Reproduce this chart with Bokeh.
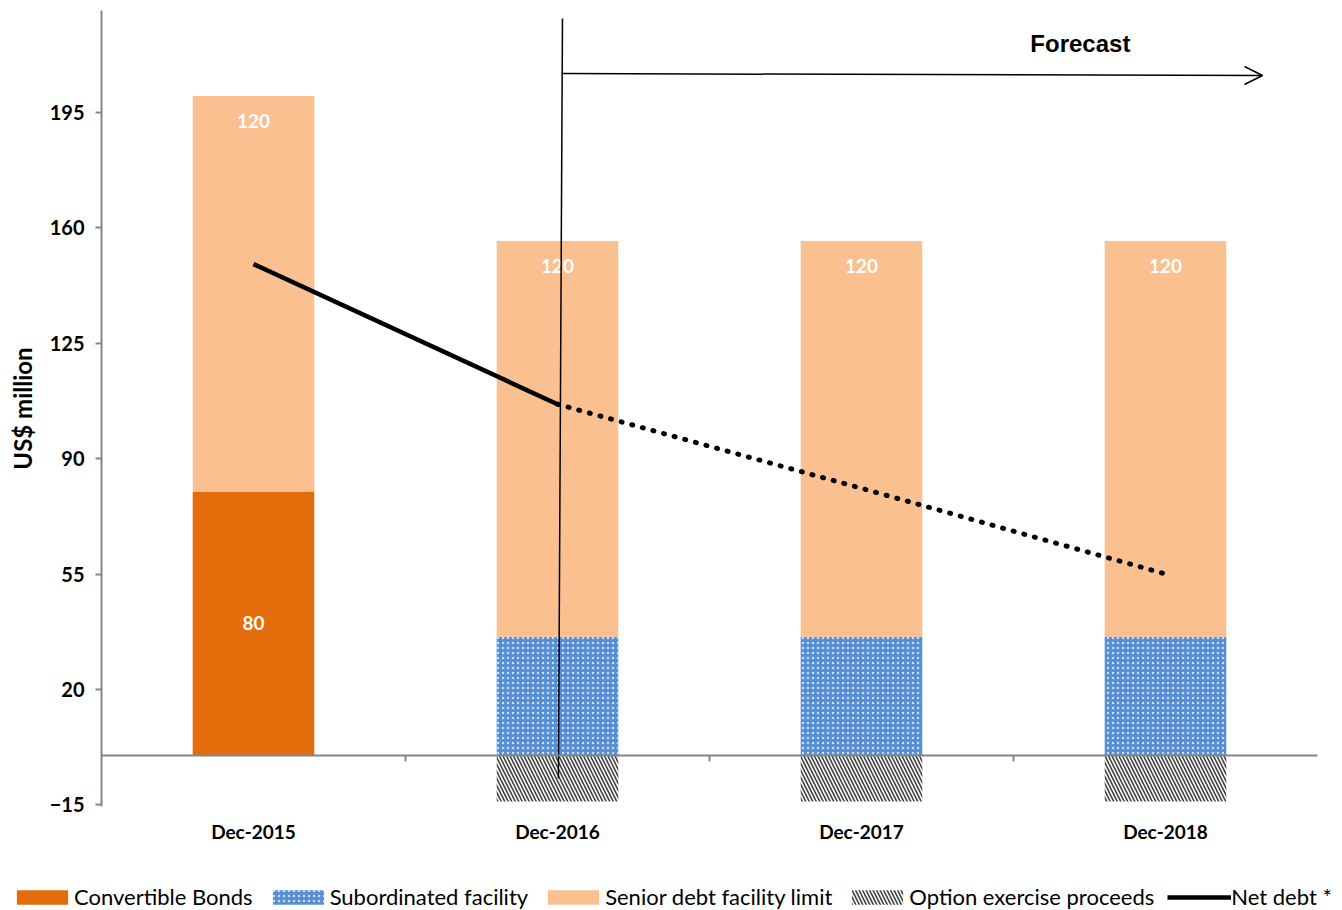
from bokeh.plotting import figure
from bokeh.models import (Range1d, FixedTicker, Legend, LegendItem, Arrow, LinearAxis,
                          OpenHead, ColumnDataSource)
from bokeh.core.properties import value
from bokeh.embed import file_html
from bokeh.resources import INLINE

# ---- data ----
categories = ["Dec-2015", "Dec-2016", "Dec-2017", "Dec-2018"]
convertible_bonds = [80, 0, 0, 0]
subordinated_facility = [0, 36, 36, 36]
senior_debt_limit = [120, 120, 120, 120]
option_proceeds = [0, -14, -14, -14]
net_debt = [149, 106.5, 81, 55]
y_ticks = [-15, 20, 55, 90, 125, 160, 195]
forecast_from = 1  # index of first forecast category (Dec-2016)
series_names = ["Convertible Bonds", "Subordinated facility", "Senior debt facility limit",
                "Option exercise proceeds", "Net debt *"]

# ---- derived ----
xs = list(range(len(categories)))
sub_bottom = convertible_bonds
sub_top = [c + s for c, s in zip(convertible_bonds, subordinated_facility)]
sen_top = [b + s for b, s in zip(sub_top, senior_debt_limit)]

ORANGE = "#E46C0A"
PEACH = "#FAC090"
BLUE = "#558ED5"
GRAY = "#868686"

# plot area bounds (data units) and the whole-canvas view around them
X_LO, X_HI = -0.5, len(categories) - 0.5
Y_LO, Y_HI = -15.5, 226

p = figure(width=1342, height=910, output_backend="svg", toolbar_location=None,
           x_range=Range1d(-0.8322, 3.5822), y_range=Range1d(-47.06, 228.96),
           min_border=0)
p.outline_line_color = None
p.grid.visible = False
p.background_fill_color = "white"

src = ColumnDataSource(dict(x=xs, conv=convertible_bonds, sb=sub_bottom, st=sub_top,
                            sen=sen_top, opt=option_proceeds, zero=[0] * len(xs)))

r_conv = p.vbar(x="x", width=0.4, bottom="zero", top="conv", source=src,
                fill_color=ORANGE, line_color=None)
r_sub = p.vbar(x="x", width=0.4, bottom="sb", top="st", source=src,
               fill_color=BLUE, line_color=None, hatch_pattern="dot", hatch_color="white",
               hatch_scale=5, hatch_weight=1.5, hatch_alpha=0.7)
r_sen = p.vbar(x="x", width=0.4, bottom="st", top="sen", source=src,
               fill_color=PEACH, line_color=None)
r_opt = p.vbar(x="x", width=0.4, bottom="opt", top="zero", source=src,
               fill_color="white", line_color=None, hatch_pattern="left_diagonal_line",
               hatch_color="#404040", hatch_scale=7, hatch_weight=1.6)

# data labels
lab_src = ColumnDataSource(dict(x=xs, y=sen_top, t=[str(v) for v in senior_debt_limit]))
p.text(x="x", y="y", text="t", source=lab_src, text_color="white",
       text_font=value("Lato"), text_font_style="bold", text_font_size="19px",
       text_align="center", text_baseline="middle", y_offset=25)
cb_x = [x for x, v in zip(xs, convertible_bonds) if v > 0]
cb_y = [v / 2 for v in convertible_bonds if v > 0]
cb_t = [str(v) for v in convertible_bonds if v > 0]
p.text(x=cb_x, y=cb_y, text=cb_t, text_color="white",
       text_font=value("Lato"), text_font_style="bold", text_font_size="19px",
       text_align="center", text_baseline="middle")

# net debt line
r_nd = p.line(xs[:forecast_from + 1], net_debt[:forecast_from + 1], line_color="black",
              line_width=4.5)
p.line(xs[forecast_from:], net_debt[forecast_from:], line_color="black",
       line_width=5, line_dash="1 10", line_cap="round")

# forecast marker
fx = xs[forecast_from]
p.segment(x0=[fx + 0.003], y0=[-7], x1=[fx + 0.0164], y1=[223.5],
          line_color="black", line_width=1.5)
p.add_layout(Arrow(end=OpenHead(size=18, line_width=1.5, line_color="black"),
                   x_start=fx + 0.014, y_start=206.8, x_end=X_HI - 0.181, y_end=206.2,
                   line_color="black", line_width=1.5))
p.text(x=[2.72], y=[215.9], text=["Forecast"], text_font=value("Liberation Sans"),
       text_font_style="bold", text_font_size="24px", text_align="center",
       text_baseline="middle", text_color="black")

# y axis (fixed at plot-area left edge)
p.yaxis.fixed_location = X_LO
p.yaxis.bounds = (Y_LO, Y_HI)
p.yaxis.ticker = FixedTicker(ticks=y_ticks)
p.yaxis.axis_line_color = GRAY
p.yaxis.axis_line_width = 2
p.yaxis.major_tick_line_color = GRAY
p.yaxis.major_tick_line_width = 2
p.yaxis.major_tick_out = 6
p.yaxis.major_tick_in = 0
p.yaxis.minor_tick_line_color = None
p.yaxis.major_label_text_font = "Lato"
p.yaxis.major_label_text_font_style = "bold"
p.yaxis.major_label_text_font_size = "20px"
p.yaxis.major_label_text_color = "black"
p.yaxis.major_label_standoff = 11
p.yaxis.axis_label = "US$ million"
p.yaxis.axis_label_text_font = "Lato"
p.yaxis.axis_label_text_font_style = "bold"
p.yaxis.axis_label_text_font_size = "24px"
p.yaxis.axis_label_text_color = "black"
p.yaxis.axis_label_standoff = 10

# category labels (fixed at plot-area bottom)
p.xaxis.fixed_location = Y_LO
p.xaxis.ticker = FixedTicker(ticks=xs)
p.xaxis.major_label_overrides = {i: c for i, c in zip(xs, categories)}
p.xaxis.axis_line_color = None
p.xaxis.major_tick_line_color = None
p.xaxis.minor_tick_line_color = None
p.xaxis.major_label_text_font = "Lato"
p.xaxis.major_label_text_font_style = "bold"
p.xaxis.major_label_text_font_size = "19px"
p.xaxis.major_label_text_color = "black"
p.xaxis.major_label_standoff = 8

# zero line with category separator ticks
sep_x = [i + 0.5 for i in xs[:-1]]
zero_axis = LinearAxis(fixed_location=0, bounds=(X_LO, X_HI), ticker=FixedTicker(ticks=sep_x),
                       axis_line_color=GRAY, axis_line_width=2,
                       major_tick_line_color=GRAY, major_tick_line_width=2,
                       major_tick_out=6, major_tick_in=0, minor_tick_line_color=None,
                       major_label_text_alpha=0, major_label_text_font_size="1px")
p.add_layout(zero_axis, "below")

legend = Legend(items=[LegendItem(label=n, renderers=[r]) for n, r in
                       zip(series_names, [r_conv, r_sub, r_sen, r_opt, r_nd])],
                orientation="horizontal", location=(10, 0), padding=0, margin=0,
                spacing=13, label_standoff=0, glyph_width=64, glyph_height=18,
                border_line_color=None, background_fill_alpha=0,
                label_text_font="Lato", label_text_font_size="22px",
                label_text_color="black")
p.add_layout(legend)

open("out.html", "w").write(file_html(p, INLINE))
